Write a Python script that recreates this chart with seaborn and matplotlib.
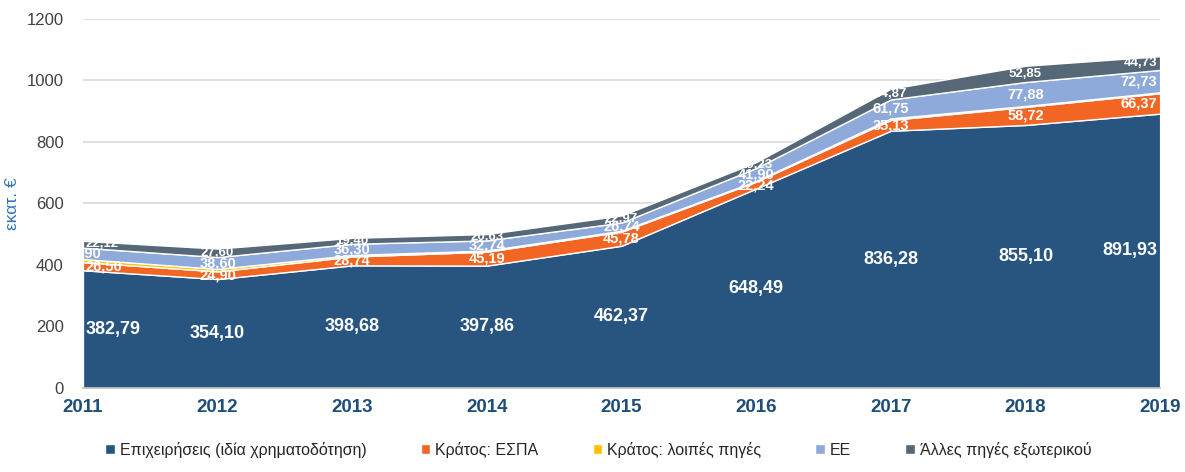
import numpy as np
import pandas as pd
import matplotlib
matplotlib.use("Agg")
import matplotlib.pyplot as plt
import seaborn as sns

# ---- data ----
years = [2011, 2012, 2013, 2014, 2015, 2016, 2017, 2018, 2019]
business = [382.79, 354.10, 398.68, 397.86, 462.37, 648.49, 836.28, 855.10, 891.93]
espa = [26.50, 24.90, 28.74, 45.19, 45.78, 22.24, 35.13, 58.72, 66.37]
state_other = [10.0, 8.0, 5.0, 4.0, 3.0, 2.5, 5.0, 3.0, 3.0]
eu = [36.90, 38.60, 36.30, 32.74, 26.74, 41.90, 61.75, 77.88, 72.73]
abroad = [22.12, 27.60, 19.40, 20.63, 22.97, 19.23, 34.87, 52.85, 44.73]

series_names = ["Επιχειρήσεις (ιδία χρηματοδότηση)", "Κράτος: ΕΣΠΑ",
                "Κράτος: λοιπές πηγές", "ΕΕ", "Άλλες πηγές εξωτερικού"]
colors = ["#285580", "#f26522", "#ffc000", "#8eaadb", "#566878"]

df = pd.DataFrame({
    "year": years,
    series_names[0]: business,
    series_names[1]: espa,
    series_names[2]: state_other,
    series_names[3]: eu,
    series_names[4]: abroad,
})

# ---- plot ----
sns.set_theme(style="white")
plt.rcParams["font.family"] = ["Liberation Sans", "DejaVu Sans"]

fig = plt.figure(figsize=(11.85, 4.72), dpi=100)
ax = fig.add_axes([0.070, 0.178, 0.909, 0.782])

ax.stackplot(df["year"], [df[n] for n in series_names], colors=colors,
             labels=series_names, zorder=2)

ax.set_xlim(2011, 2019)
ax.set_ylim(0, 1200)
ax.set_yticks(range(0, 1201, 200))
ax.set_xticks(years)
ax.yaxis.grid(True, color="#d9d9d9", linewidth=1.2, zorder=0)
ax.set_axisbelow(True)

ax.tick_params(axis="y", labelsize=12, colors="#404040", length=0, pad=14)
ax.tick_params(axis="x", labelsize=13.5, colors="#1f4e79", length=0, pad=8)
for lab in ax.get_xticklabels():
    lab.set_fontweight("bold")

ax.set_ylabel("εκατ. €", color="#2e75b6", fontsize=12.5)
ax.yaxis.set_label_coords(-0.058, 0.5)

sns.despine(ax=ax, left=True)
ax.spines["bottom"].set_color("#bfbfbf")

# ---- data labels ----
label_series = [0, 1, 3, 4]
sizes = {0: 13, 1: 10.5, 3: 10.5, 4: 9.5}
cum = np.cumsum(np.array([df[n].values for n in series_names]), axis=0)
for i, yr in enumerate(years):
    for s in label_series:
        vals = df[series_names[s]].values
        base = cum[s - 1][i] if s > 0 else 0
        ymid = base + vals[i] / 2
        txt = f"{vals[i]:.2f}".replace(".", ",")
        ha = "center"
        xx = yr
        if i == 0 and s != 3:
            ha = "left"
            xx = yr + 0.02
        if i == len(years) - 1:
            ha = "right"
            xx = yr - 0.02
        ax.text(xx, ymid, txt, ha=ha, va="center", color="white",
                fontsize=sizes[s], fontweight="bold", clip_on=True, zorder=3)

# ---- legend ----
handles, labels = ax.get_legend_handles_labels()
leg = fig.legend(handles, labels, loc="lower center", ncol=5,
                 bbox_to_anchor=(0.505, 0.0), frameon=False, fontsize=11.5,
                 handlelength=0.6, handleheight=0.6, handletextpad=0.3,
                 columnspacing=3.4)

fig.savefig("out.png", dpi=100)
